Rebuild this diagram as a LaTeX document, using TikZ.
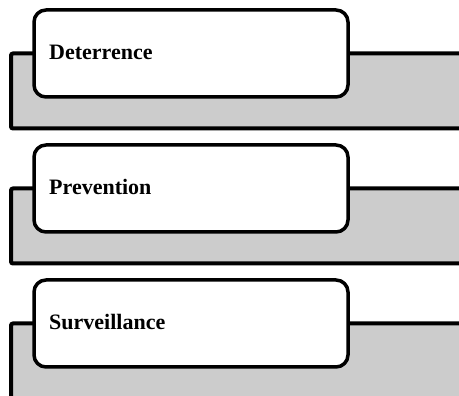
\documentclass[tikz,border=0pt]{standalone}
\usepackage{fontspec}
\setmainfont{Liberation Serif}
\definecolor{bandgray}{RGB}{204,204,204}
\begin{document}
\begin{tikzpicture}[x=1pt,y=-1pt,
  band/.style={fill=bandgray},
  bandline/.style={line width=4pt,rounded corners=2pt},
  card/.style={draw,line width=3.5pt,fill=white,rounded corners=12pt,
    minimum width=314pt,minimum height=87pt,inner sep=0pt},
  label/.style={font=\fontsize{22}{26}\selectfont\bfseries,anchor=base west,inner sep=0pt}]
\clip (0,0) rectangle (459,396);

% grey bands behind the cards
\foreach \top in {53.5,188.5,323.5}{
  \fill[band] (11,\top) rectangle (470,\top+75);
  \draw[bandline] (470,\top) -- (11,\top) -- (11,\top+75) -- (470,\top+75);
}

% cards
\node[card] (card1) at (191,53.5) {};
\node[card] (card2) at (191,188.5) {};
\node[card] (card3) at (191,323.5) {};

% labels
\node[label] (lab1) at (49,60) {Deterrence};
\node[label] (lab2) at (49,195) {Prevention};
\node[label] (lab3) at (49,330) {Surveillance};
\end{tikzpicture}
\end{document}
